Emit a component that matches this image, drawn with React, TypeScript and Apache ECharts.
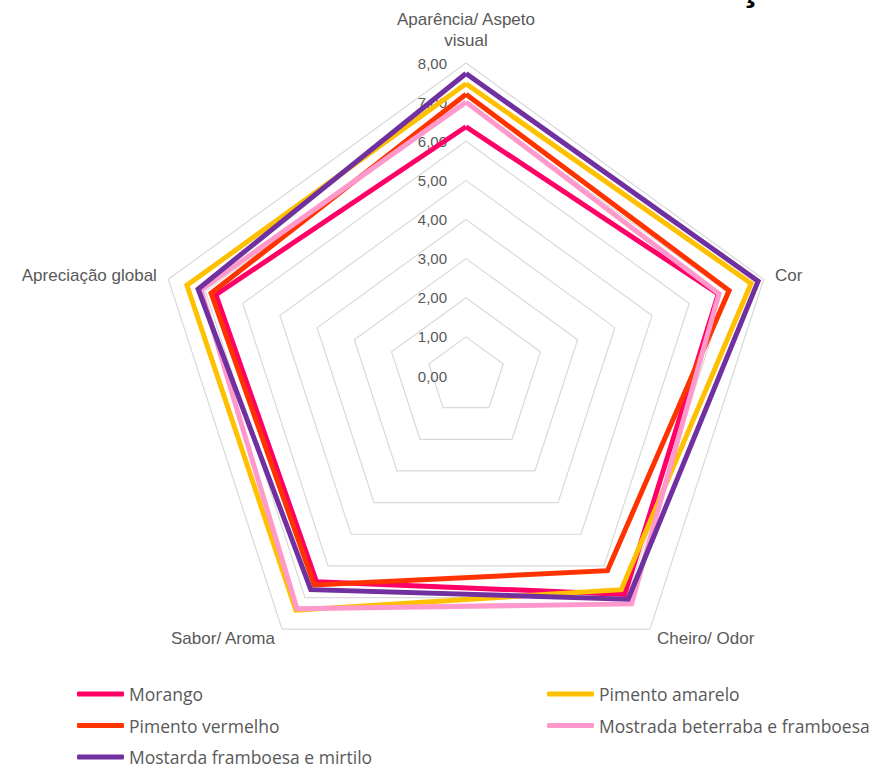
import React, { useEffect, useRef } from "react";
import * as echarts from "echarts";

// Axes in clockwise order as in the reference (top first)
const categories = [
  "Aparência/ Aspeto\nvisual",
  "Cor",
  "Cheiro/ Odor",
  "Sabor/ Aroma",
  "Apreciação global",
];
const axisMax = 8;
const axisSplits = 8;

const seriesNames = [
  "Morango",
  "Pimento amarelo",
  "Pimento vermelho",
  "Mostrada beterraba e framboesa",
  "Mostarda framboesa e mirtilo",
];
const seriesColors = ["#FF0066", "#FFC000", "#FF3300", "#FF99CC", "#7030A0"];

// values per axis, same order as categories
const morango = [6.37, 6.78, 6.9, 6.5, 6.72];
const pimentoAmarelo = [7.47, 7.66, 6.75, 7.4, 7.5];
const pimentoVermelho = [7.2, 7.07, 6.15, 6.6, 6.85];
const mostradaBeterraba = [7.0, 6.8, 7.2, 7.35, 7.12];
const mostardaFramboesa = [7.73, 7.85, 7.05, 6.75, 7.2];

const seriesValues = [morango, pimentoAmarelo, pimentoVermelho, mostradaBeterraba, mostardaFramboesa];

const leftLegend = ["Morango", "Pimento vermelho", "Mostarda framboesa e mirtilo"];
const rightLegend = ["Pimento amarelo", "Mostrada beterraba e framboesa"];

export default function App() {
  const ref = useRef<HTMLDivElement>(null);
  useEffect(() => {
    const chart = echarts.init(ref.current!, null, { renderer: "svg" });
    // ECharts places radar indicators counter-clockwise: reorder to get clockwise layout
    const order = [0, 4, 3, 2, 1];
    const indicator = order.map((i, k) => ({
      name: categories[i],
      max: axisMax,
      min: 0,
      ...(k === 0
        ? {
            axisLabel: {
              show: true,
              formatter: (v: number) => v.toFixed(2).replace(".", ","),
              color: "#595959",
              fontSize: 15,
              fontFamily: "Liberation Sans",
              margin: 19,
            },
          }
        : {}),
    }));
    const legendText = {
      color: "#595959",
      fontSize: 17.5,
      fontFamily: "Open Sans",
      lineHeight: 18,
    };
    const legendBase = {
      orient: "vertical",
      top: 685,
      padding: 0,
      itemWidth: 47,
      itemHeight: 5,
      itemGap: 13.5,
      icon: "roundRect",
      textStyle: legendText,
      selectedMode: false,
    };
    chart.setOption({
      animation: false,
      backgroundColor: "#ffffff",
      legend: [
        { ...legendBase, data: leftLegend, left: 77 },
        { ...legendBase, data: rightLegend, left: 547 },
      ],
      radar: {
        center: [466, 376],
        radius: 313,
        startAngle: 90,
        shape: "polygon",
        splitNumber: axisSplits,
        indicator,
        nameGap: 12,
        axisName: {
          color: "#595959",
          fontSize: 17,
          fontFamily: "Liberation Sans",
          lineHeight: 21,
        },
        axisLine: { show: false },
        axisTick: { show: false },
        axisLabel: { show: false },
        splitArea: { show: false },
        splitLine: { lineStyle: { color: "#d9d9d9", width: 1.2 } },
      },
      series: seriesNames.map((name, s) => ({
        type: "radar",
        name,
        symbol: "none",
        color: seriesColors[s],
        lineStyle: { width: 5, color: seriesColors[s], join: "miter" },
        data: [{ name, value: order.map((i) => seriesValues[s][i]) }],
      })),
      graphic: [
        {
          type: "text",
          x: 739,
          y: 6,
          style: {
            text: "ç",
            fill: "#000000",
            font: "bold 40px 'Liberation Sans'",
            textVerticalAlign: "bottom",
          },
        },
      ],
    });
    return () => chart.dispose();
  }, []);
  return (
    <div
      ref={ref}
      style={{ position: "absolute", left: 0, top: 0, width: 877, height: 771 }}
    />
  );
}
